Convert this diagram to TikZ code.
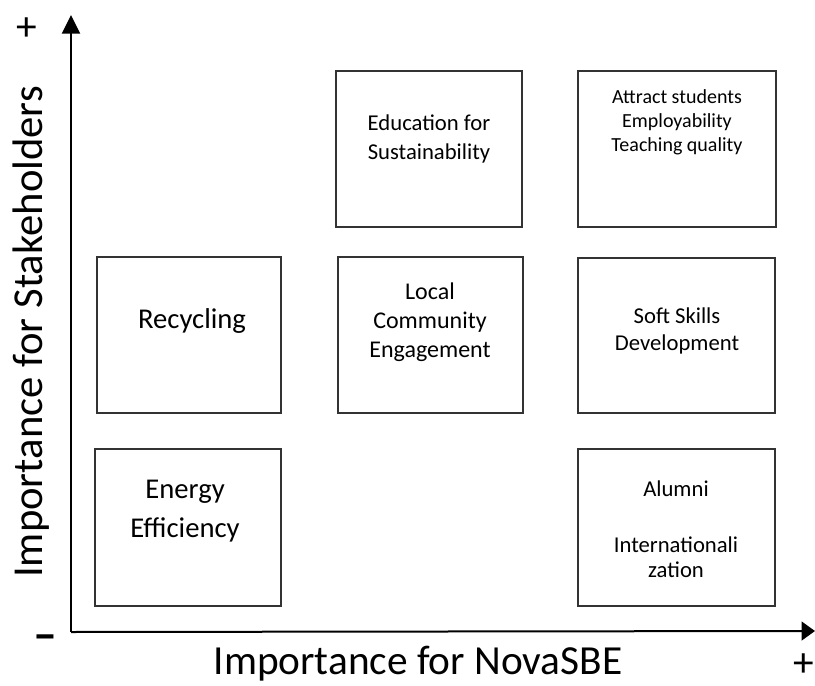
\documentclass[tikz,border=0pt]{standalone}
\usepackage{fontspec}
\setmainfont{Carlito}
\usetikzlibrary{arrows.meta}
\begin{document}
\begin{tikzpicture}[x=0.75pt, y=-0.75pt,
    box/.style={draw=black!80, line width=0.9pt, inner sep=0pt},
    small/.style={align=center, font=\fontsize{15}{18}\selectfont},
    normal/.style={align=center, font=\fontsize{17}{20}\selectfont},
    medium/.style={align=center, font=\fontsize{18}{21.75}\selectfont},
    large/.style={align=center, font=\fontsize{21.5}{29.5}\selectfont},
    axislabel/.style={font=\fontsize{31}{36}\selectfont}]
  \useasboundingbox (0,0) rectangle (815,686);

  % axes
  \coordinate (o) at (71,632); \coordinate (ytop) at (71,15);
  \coordinate (xend) at (815,631);
  \draw [line width=1.5pt, -{Triangle[length=14pt, width=13.5pt]}] (o) -- (ytop);
  \draw [line width=1.5pt, -{Triangle[length=10pt, width=14pt]}] (o) -- (xend);
  \node [axislabel] (plusy) at (27,29) {+};
  \node [axislabel, font=\fontsize{36}{36}\selectfont\bfseries] (minus) at (45,643) {–};
  \node [axislabel, inner sep=0pt] (plusx) at (804,665) {+};
  \node [axislabel, font=\fontsize{32}{36}\selectfont, rotate=90] (ylab) at (31,332)
    {Importance for Stakeholders};
  \node [axislabel] (xlab) at (418,664) {Importance for NovaSBE};

  % boxes
  \begin{scope}[every node/.style={box}]
    \node [minimum width=139.5pt, minimum height=117pt] (edu) at (429,149) {};
    \node [minimum width=148.5pt, minimum height=117pt] (attract) at (677,149) {};
    \node [minimum width=138pt, minimum height=117pt] (recyc) at (189,335) {};
    \node [minimum width=138.75pt, minimum height=117pt] (local) at (430.5,335) {};
    \node [minimum width=147.75pt, minimum height=116.25pt] (soft) at (676.5,335.5) {};
    \node [minimum width=139.5pt, minimum height=117.75pt] (energy) at (188,527.5) {};
    \node [minimum width=147.75pt, minimum height=117.75pt] (alumni) at (676.5,527.5) {};
  \end{scope}

  % box texts
  \node [normal, font=\fontsize{17}{21.75}\selectfont] (edu-t) at (429,138.5)
    {Education for\\Sustainability};
  \node [small] (attract-t) at (677,122) {Attract students\\Employability\\Teaching quality};
  \node [large] (recyc-t) at (192,321) {Recycling};
  \node [medium] (local-t) at (430,322) {Local\\Community\\Engagement};
  \node [normal] (soft-t) at (677,331) {Soft Skills\\Development};
  \node [large] (energy-t) at (185,511) {Energy\\Efficiency};
  \node [normal, font=\fontsize{17}{18.75}\selectfont] (alumni-t) at (676,529.5)
    {Alumni\\[23.25pt]Internationali\\zation};
\end{tikzpicture}
\end{document}
